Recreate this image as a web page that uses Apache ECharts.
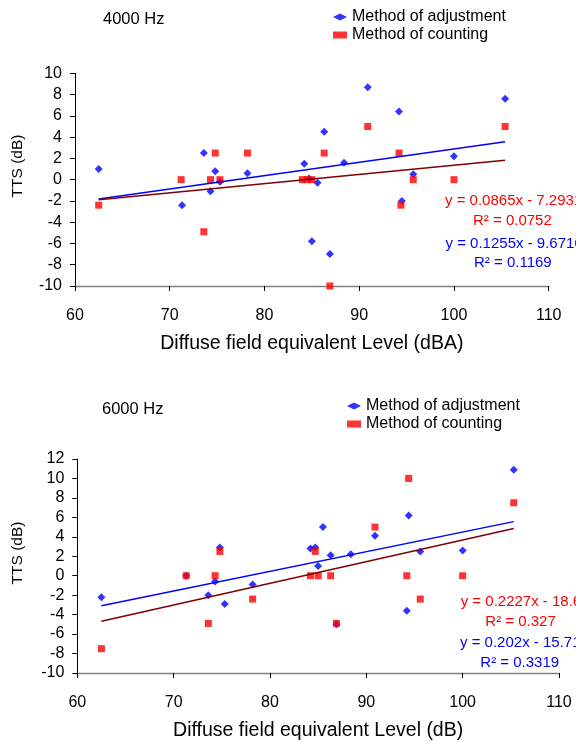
<!DOCTYPE html>
<html><head><meta charset="utf-8">
<script src="https://cdn.jsdelivr.net/npm/echarts@6/dist/echarts.min.js"></script>
<style>html,body{margin:0;padding:0;background:#fff}#c{width:576px;height:742px}</style>
</head><body><div id="c"></div>
<script>
// ---- data ----
const xTicks = [60, 70, 80, 90, 100, 110];
const seriesNames = ['Method of adjustment', 'Method of counting'];

// 4000 Hz
const x4000Adj = [62.5, 71.3, 73.6, 74.3, 74.8, 75.3, 78.2, 84.2, 84.7, 85.0, 85.6, 86.3, 86.9, 88.4, 90.9, 94.2, 94.5, 95.7, 100.0, 105.4];
const y4000Adj = [1.0, -2.4, 2.5, -1.1, 0.8, -0.2, 0.6, 1.5, 0.1, -5.8, -0.3, 4.5, -7.0, 1.6, 8.7, 6.4, -2.0, 0.5, 2.2, 7.6];
const x4000Cnt = [62.5, 71.2, 73.6, 74.3, 74.8, 75.3, 78.2, 84.0, 84.5, 85.0, 86.3, 86.9, 90.9, 94.2, 94.4, 95.7, 100.0, 105.4];
const y4000Cnt = [-2.4, 0, -4.9, 0, 2.5, 0, 2.5, 0, 0, 0, 2.5, -10, 5.0, 2.5, -2.4, 0, 0, 5.0];
const fit4000Adj = {slope: 0.1255, intercept: -9.6716};
const fit4000Cnt = {slope: 0.0865, intercept: -7.2931};

// 6000 Hz
const x6000Adj = [62.5, 71.3, 73.6, 74.3, 74.8, 75.3, 78.2, 84.2, 84.7, 85.0, 85.5, 86.3, 86.9, 88.4, 90.9, 94.2, 94.4, 95.6, 100.0, 105.3];
const y6000Adj = [-2.2, 0, -2.0, -0.6, 2.9, -2.9, -0.9, 2.8, 2.9, 1.0, 5.0, 2.1, -5.0, 2.2, 4.1, -3.6, 6.2, 2.5, 2.6, 10.9];
const x6000Cnt = [62.5, 71.3, 73.6, 74.3, 74.8, 78.2, 84.2, 84.7, 85.0, 86.3, 86.9, 90.9, 94.2, 94.4, 95.6, 100.0, 105.3];
const y6000Cnt = [-7.5, 0, -4.9, 0, 2.5, -2.4, 0, 2.5, 0, 0, -4.9, 5.0, 0, 10.0, -2.4, 0, 7.5];
const fit6000Adj = {slope: 0.202, intercept: -15.71};
const fit6000Cnt = {slope: 0.2227, intercept: -18.6};

const eq4000 = ['y = 0.0865x - 7.2931', 'R² = 0.0752', 'y = 0.1255x - 9.6716', 'R² = 0.1169'];
const eq6000 = ['y = 0.2227x - 18.6', 'R² = 0.327', 'y = 0.202x - 15.71', 'R² = 0.3319'];

// ---- helpers ----
const FONT = '"Liberation Sans", Arial, sans-serif';
const BLUE = '#0000FF', RED = '#FF0000', DARKRED = '#800000';
function pairs(xs, ys) { return xs.map((x, i) => [x, ys[i]]); }
function fitLine(xs, fit) {
  const lo = Math.min(...xs), hi = Math.max(...xs);
  return [[lo, fit.slope * lo + fit.intercept], [hi, fit.slope * hi + fit.intercept]];
}

const chart = echarts.init(document.getElementById('c'), null, {renderer: 'canvas'});

function xAxisCfg(gi, name) {
  return {
    gridIndex: gi, type: 'value', min: 60, max: 110, interval: 10,
    name: name, nameLocation: 'middle', nameGap: 48,
    nameTextStyle: {fontFamily: FONT, fontSize: 19.5, color: '#000'},
    axisLine: {onZero: false, lineStyle: {color: '#808080', width: 1.3}},
    axisTick: {show: true, length: 5, lineStyle: {color: '#000'}},
    axisLabel: {fontFamily: FONT, fontSize: 16, color: '#000', margin: 22,
      formatter: v => xTicks.includes(v) ? String(v) : ''},
    splitLine: {show: false}
  };
}
function yAxisCfg(gi, min, max) {
  return {
    gridIndex: gi, type: 'value', min: min, max: max, interval: 2,
    axisLine: {onZero: false, lineStyle: {color: '#000', width: 1}},
    axisTick: {show: true, length: 5, lineStyle: {color: '#000'}},
    axisLabel: {fontFamily: FONT, fontSize: 16, color: '#000', margin: 13},
    splitLine: {show: false}
  };
}
function scatter(name, xi, yi, data, color, symbol, size) {
  return {name, type: 'scatter', xAxisIndex: xi, yAxisIndex: yi, data,
    symbol, symbolSize: size, itemStyle: {color}, z: symbol === 'rect' ? 4 : 3, silent: true};
}
function trend(xi, yi, data, color) {
  return {type: 'line', xAxisIndex: xi, yAxisIndex: yi, data, symbol: 'none',
    lineStyle: {color, width: 1.5}, z: 5, silent: true};
}
function txt(x, y, s, color, size, align) {
  return {type: 'text', x, y, style: {text: s, fill: color, font: size + 'px ' + FONT,
    textAlign: align || 'left', textVerticalAlign: 'middle', align: align || 'left', verticalAlign: 'middle'}};
}
function legendCfg(left, top) {
  return {
    left, top, orient: 'vertical', itemWidth: 14, itemHeight: 7, itemGap: 0, padding: 0,
    selectedMode: false,
    textStyle: {fontFamily: FONT, fontSize: 16, color: '#000', lineHeight: 18},
    data: [{name: seriesNames[0], icon: 'diamond'}, {name: seriesNames[1], icon: 'rect'}]
  };
}
function yName(y) {
  return {type: 'text', x: 18, y, rotation: Math.PI / 2,
    style: {text: 'TTS (dB)', fill: '#000', font: '15.5px ' + FONT, align: 'center', verticalAlign: 'middle', textAlign: 'center', textVerticalAlign: 'middle'}};
}

chart.setOption({
  animation: false,
  backgroundColor: '#fff',
  legend: [legendCfg(333, 8), legendCfg(347, 397)],
  grid: [
    {left: 75, top: 73.3, width: 473.7, height: 212.7},
    {left: 77.3, top: 459, width: 481.7, height: 221}
  ],
  xAxis: [xAxisCfg(0, 'Diffuse field equivalent Level (dBA)'), xAxisCfg(1, 'Diffuse field equivalent Level (dB)')],
  yAxis: [yAxisCfg(0, -10, 10), yAxisCfg(1, -10, 12)],
  series: [
    scatter(seriesNames[0], 0, 0, pairs(x4000Adj, y4000Adj), BLUE, 'diamond', 8),
    scatter(seriesNames[1], 0, 0, pairs(x4000Cnt, y4000Cnt), RED, 'rect', 7),
    trend(0, 0, fitLine(x4000Adj, fit4000Adj), BLUE),
    trend(0, 0, fitLine(x4000Adj, fit4000Cnt), DARKRED),
    scatter(seriesNames[0], 1, 1, pairs(x6000Adj, y6000Adj), BLUE, 'diamond', 8),
    scatter(seriesNames[1], 1, 1, pairs(x6000Cnt, y6000Cnt), RED, 'rect', 7),
    trend(1, 1, fitLine(x6000Adj, fit6000Adj), BLUE),
    trend(1, 1, fitLine(x6000Adj, fit6000Cnt), DARKRED)
  ],
  graphic: [
    txt(103, 19, '4000 Hz', '#000', 16.5),
    txt(102, 409, '6000 Hz', '#000', 16.5),
    yName(166),
    yName(553),
    txt(445, 201, eq4000[0], RED, 15),
    txt(473, 221, eq4000[1], RED, 15),
    txt(445.5, 244, eq4000[2], BLUE, 15),
    txt(474, 263, eq4000[3], BLUE, 15),
    txt(460.7, 602, eq6000[0], RED, 15),
    txt(485.3, 621.7, eq6000[1], RED, 15),
    txt(460, 642.7, eq6000[2], BLUE, 15),
    txt(480.3, 662.7, eq6000[3], BLUE, 15)
  ]
});
</script></body></html>
